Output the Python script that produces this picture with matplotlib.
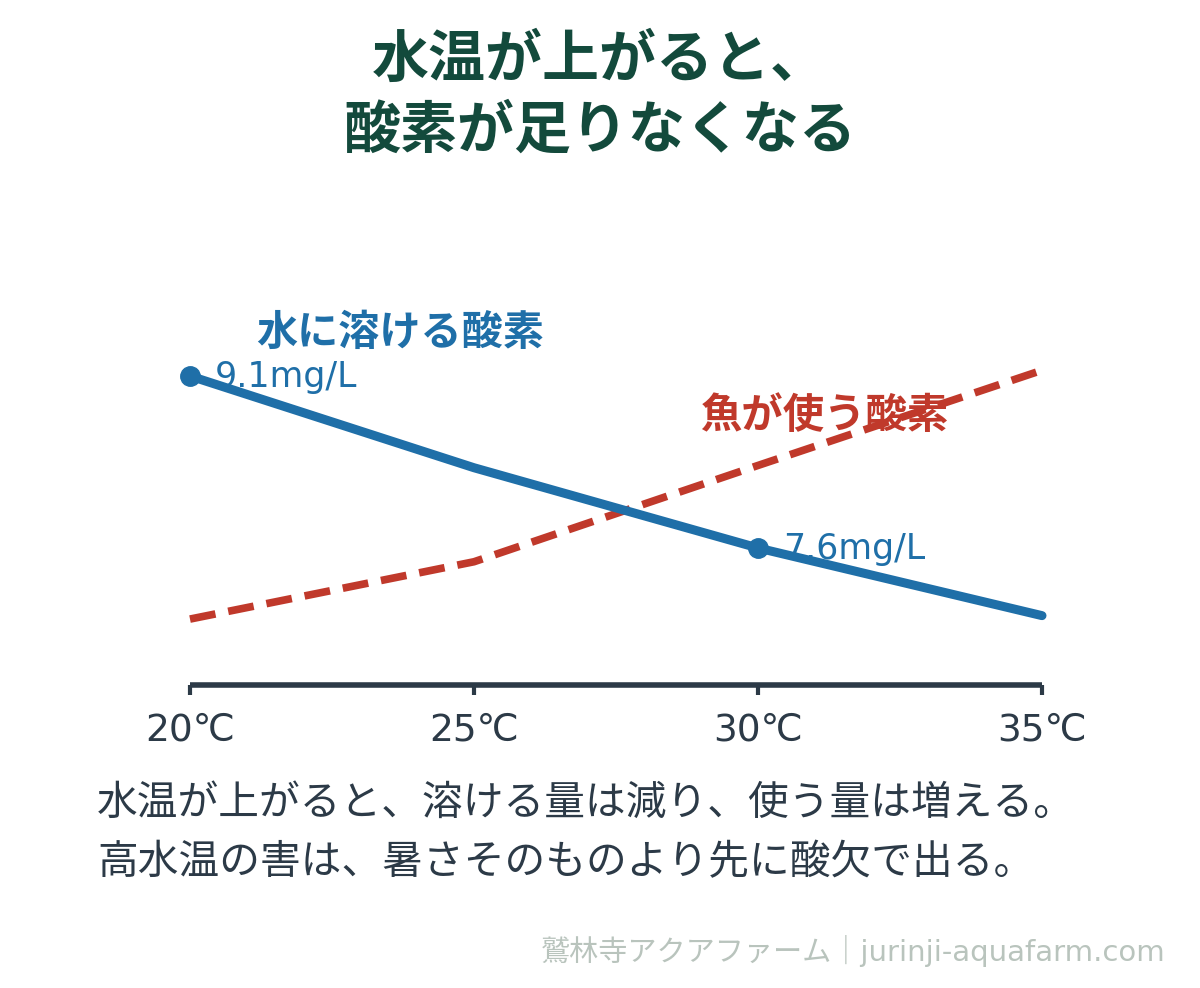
import matplotlib
matplotlib.use("Agg")
import matplotlib.pyplot as plt

plt.rcParams["font.family"] = ["Noto Sans CJK JP", "DejaVu Sans"]
LATIN = ["DejaVu Sans", "Noto Sans CJK JP"]

# データ
temps = [20, 25, 30, 35]
tick_labels = ["20℃", "25℃", "30℃", "35℃"]
dissolved = [9.1, 8.3, 7.6, 7.01]        # 水に溶ける酸素 (mg/L)
consumed = [6.98, 7.48, 8.32, 9.15]      # 魚が使う酸素（同じスケールで相対表示）
marked_idx = [0, 2]
marked_labels = ["9.1mg/L", "7.6mg/L"]

BLUE = "#1f6fa8"
RED = "#c0392b"
TITLE = "#134a3c"
DARK = "#2c3a47"
GREY = "#b9c4bd"

fig = plt.figure(figsize=(12, 9.88), dpi=100)
ax = fig.add_axes([190 / 1200, 1 - 685 / 988, 852 / 1200, 385 / 988])

ax.plot(temps, dissolved, color=BLUE, lw=6.5, solid_capstyle="round",
        solid_joinstyle="round", zorder=3, clip_on=False)
ax.plot(temps, consumed, color=RED, lw=5.5, ls=(0, (3.4, 1.7)),
        dash_capstyle="butt", zorder=2, clip_on=False)
ax.plot([temps[i] for i in marked_idx], [dissolved[i] for i in marked_idx],
        "o", color=BLUE, ms=14, zorder=4, clip_on=False)

for i, lab in zip(marked_idx, marked_labels):
    ax.annotate(lab, (temps[i], dissolved[i]), xytext=(18, -1),
                textcoords="offset points", color=BLUE, fontsize=25,
                family=LATIN, va="center", ha="left", zorder=2)

ax.text(23.70, 9.475, "水に溶ける酸素", color=BLUE, fontsize=29.6,
        fontweight="bold", ha="center", va="center")
ax.text(31.16, 8.755, "魚が使う酸素", color=RED, fontsize=29.8,
        fontweight="bold", ha="center", va="center", zorder=1)

ax.set_xlim(20, 35)
ax.set_ylim(6.405, 9.763)
ax.set_xticks(temps)
ax.set_xticklabels(tick_labels, fontsize=27, color=DARK, family=LATIN)
ax.set_yticks([])
for s in ["top", "right", "left"]:
    ax.spines[s].set_visible(False)
ax.spines["bottom"].set_color(DARK)
ax.spines["bottom"].set_linewidth(4)
ax.spines["bottom"].set_capstyle("butt")
ax.tick_params(axis="x", length=7, width=3, color=DARK, pad=13)
ax.patch.set_alpha(0)

fig.text(0.5, 1 - 60 / 988, "水温が上がると、", ha="center", va="center",
         fontsize=41, fontweight="bold", color=TITLE)
fig.text(0.5, 1 - 131 / 988, "酸素が足りなくなる", ha="center", va="center",
         fontsize=41, fontweight="bold", color=TITLE)

fig.text(97 / 1200, 1 - 803 / 988, "水温が上がると、溶ける量は減り、使う量は増える。",
         ha="left", va="center", fontsize=29.3, color=DARK)
fig.text(97 / 1200, 1 - 863 / 988, "高水温の害は、暑さそのものより先に酸欠で出る。",
         ha="left", va="center", fontsize=29.3, color=DARK)

fig.text(1166 / 1200, 1 - 951 / 988, "鷲林寺アクアファーム｜jurinji-aquafarm.com",
         ha="right", va="center", fontsize=21, color=GREY, family=LATIN)

fig.savefig("out.png", dpi=100, facecolor="white")
